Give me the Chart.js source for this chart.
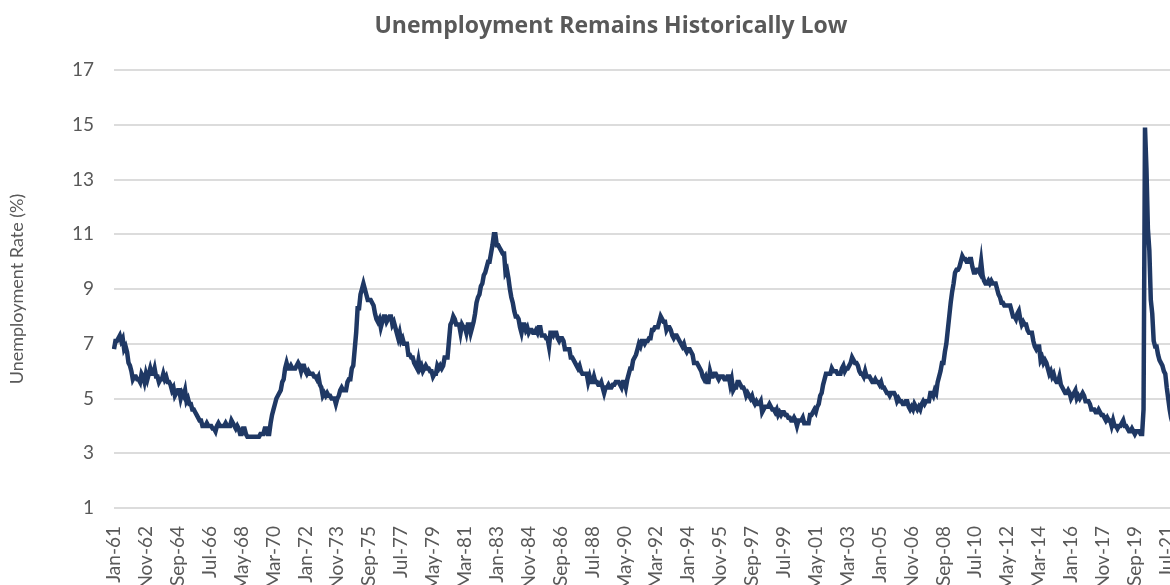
<!DOCTYPE html>
<html>
<head>
<meta charset="utf-8">
<script src="https://cdn.jsdelivr.net/npm/chart.js@4/dist/chart.umd.min.js"></script>
<style>
    html, body { margin: 0; padding: 0; background: #fff; overflow: hidden; width: 1170px; height: 585px; }
    #chart { position: absolute; left: 0; top: 0; }
</style>
</head>
<body>
<canvas id="chart" width="1222" height="600"></canvas>
<script>
// Monthly unemployment rate (%), Jan-1961 .. Dec-2021, one row per year
const unemploymentRate = [
    6.8, 7.1, 7.1, 7.2, 7.3, 7.1, 7.2, 6.8, 6.9, 6.7, 6.3, 6.2,
    6.0, 5.7, 5.8, 5.8, 5.7, 5.7, 5.6, 5.9, 5.8, 5.6, 5.9, 5.7,
    5.9, 6.1, 5.9, 5.9, 6.1, 5.8, 5.8, 5.6, 5.7, 5.7, 5.9, 5.7,
    5.8, 5.6, 5.6, 5.5, 5.3, 5.4, 5.1, 5.2, 5.3, 5.3, 5.0, 5.2,
    5.1, 5.3, 4.9, 5.0, 4.8, 4.8, 4.6, 4.6, 4.5, 4.4, 4.3, 4.2,
    4.2, 4.0, 4.0, 4.0, 4.1, 4.0, 4.0, 4.0, 3.9, 3.9, 3.8, 4.0,
    4.1, 4.0, 4.0, 4.0, 4.0, 4.1, 4.0, 4.0, 4.0, 4.2, 4.1, 4.0,
    3.9, 4.0, 3.9, 3.7, 3.7, 3.9, 3.9, 3.7, 3.6, 3.6, 3.6, 3.6,
    3.6, 3.6, 3.6, 3.6, 3.6, 3.7, 3.7, 3.7, 3.9, 3.9, 3.7, 3.7,
    4.1, 4.4, 4.6, 4.8, 5.0, 5.1, 5.2, 5.3, 5.6, 5.7, 6.1, 6.3,
    6.1, 6.1, 6.2, 6.1, 6.1, 6.1, 6.2, 6.3, 6.2, 6.0, 6.2, 6.2,
    6.0, 5.9, 6.0, 5.9, 5.9, 5.9, 5.8, 5.8, 5.7, 5.8, 5.5, 5.4,
    5.1, 5.2, 5.1, 5.2, 5.1, 5.1, 5.0, 5.0, 5.0, 4.8, 5.0, 5.1,
    5.3, 5.4, 5.3, 5.3, 5.3, 5.6, 5.7, 5.7, 6.1, 6.2, 6.8, 7.4,
    8.3, 8.3, 8.8, 9.0, 9.2, 9.0, 8.8, 8.6, 8.6, 8.6, 8.5, 8.4,
    8.1, 7.9, 7.8, 7.9, 7.6, 7.8, 8.0, 8.0, 7.8, 7.9, 8.0, 8.0,
    7.7, 7.8, 7.6, 7.4, 7.2, 7.4, 7.1, 7.2, 7.0, 7.0, 7.0, 6.6,
    6.6, 6.5, 6.5, 6.3, 6.2, 6.1, 6.4, 6.1, 6.2, 6.0, 6.1, 6.2,
    6.1, 6.1, 6.0, 6.0, 5.8, 5.9, 5.9, 6.2, 6.1, 6.2, 6.1, 6.2,
    6.5, 6.5, 6.5, 7.1, 7.7, 7.8, 8.0, 7.9, 7.7, 7.7, 7.7, 7.4,
    7.7, 7.6, 7.6, 7.4, 7.7, 7.7, 7.4, 7.6, 7.8, 8.1, 8.5, 8.7,
    8.8, 9.1, 9.2, 9.5, 9.6, 9.8, 10.0, 10.0, 10.3, 10.6, 11.0, 11.0,
    10.6, 10.6, 10.5, 10.4, 10.3, 10.3, 9.6, 9.7, 9.4, 9.0, 8.7, 8.5,
    8.2, 8.0, 8.0, 7.9, 7.6, 7.4, 7.7, 7.7, 7.5, 7.6, 7.4, 7.5,
    7.5, 7.4, 7.4, 7.5, 7.4, 7.6, 7.6, 7.3, 7.3, 7.3, 7.2, 7.2,
    6.9, 7.4, 7.4, 7.3, 7.4, 7.4, 7.2, 7.1, 7.2, 7.2, 7.1, 6.8,
    6.8, 6.8, 6.8, 6.5, 6.5, 6.4, 6.3, 6.2, 6.1, 6.2, 6.0, 5.9,
    5.9, 5.9, 5.9, 5.6, 5.8, 5.6, 5.6, 5.8, 5.6, 5.6, 5.5, 5.5,
    5.6, 5.4, 5.2, 5.4, 5.4, 5.5, 5.4, 5.4, 5.5, 5.5, 5.6, 5.6,
    5.6, 5.5, 5.4, 5.6, 5.6, 5.4, 5.7, 5.9, 6.1, 6.1, 6.4, 6.5,
    6.6, 6.8, 7.0, 6.9, 7.1, 7.1, 7.0, 7.1, 7.1, 7.2, 7.2, 7.5,
    7.5, 7.6, 7.6, 7.6, 7.8, 8.0, 7.9, 7.8, 7.8, 7.5, 7.6, 7.6,
    7.5, 7.3, 7.2, 7.3, 7.3, 7.2, 7.1, 7.0, 6.9, 7.0, 6.8, 6.7,
    6.8, 6.8, 6.7, 6.6, 6.3, 6.3, 6.3, 6.2, 6.1, 6.0, 5.8, 5.7,
    5.8, 5.6, 5.6, 6.0, 5.8, 5.8, 5.9, 5.9, 5.8, 5.7, 5.8, 5.8,
    5.8, 5.7, 5.7, 5.8, 5.8, 5.5, 5.7, 5.3, 5.4, 5.4, 5.6, 5.6,
    5.5, 5.4, 5.4, 5.3, 5.1, 5.2, 5.1, 5.0, 5.1, 4.9, 4.8, 4.9,
    4.8, 4.8, 4.9, 4.5, 4.6, 4.7, 4.7, 4.7, 4.8, 4.7, 4.6, 4.6,
    4.5, 4.6, 4.4, 4.5, 4.4, 4.5, 4.5, 4.4, 4.4, 4.3, 4.3, 4.2,
    4.2, 4.3, 4.2, 4.0, 4.2, 4.2, 4.2, 4.3, 4.1, 4.1, 4.1, 4.1,
    4.4, 4.4, 4.5, 4.6, 4.5, 4.7, 4.8, 5.1, 5.2, 5.5, 5.7, 5.9,
    5.9, 5.9, 5.9, 6.1, 6.0, 6.0, 6.0, 5.9, 5.9, 5.9, 6.1, 6.2,
    6.0, 6.1, 6.1, 6.2, 6.3, 6.5, 6.4, 6.3, 6.3, 6.2, 6.0, 5.9,
    5.9, 5.8, 6.0, 5.8, 5.8, 5.8, 5.7, 5.6, 5.6, 5.7, 5.6, 5.6,
    5.5, 5.6, 5.4, 5.4, 5.3, 5.2, 5.2, 5.1, 5.2, 5.2, 5.2, 5.1,
    4.9, 5.0, 4.9, 4.9, 4.8, 4.8, 4.9, 4.9, 4.7, 4.6, 4.7, 4.6,
    4.8, 4.7, 4.6, 4.7, 4.6, 4.8, 4.9, 4.8, 4.9, 4.9, 4.9, 5.2,
    5.2, 5.1, 5.3, 5.2, 5.6, 5.8, 6.0, 6.3, 6.3, 6.7, 7.0, 7.5,
    8.0, 8.5, 8.9, 9.2, 9.6, 9.7, 9.7, 9.8, 10.0, 10.2, 10.1, 10.1,
    10.0, 10.0, 10.1, 10.1, 9.8, 9.6, 9.6, 9.7, 9.7, 9.6, 10.0, 9.5,
    9.3, 9.2, 9.2, 9.3, 9.2, 9.3, 9.2, 9.2, 9.2, 9.0, 8.8, 8.7,
    8.5, 8.5, 8.4, 8.4, 8.4, 8.4, 8.4, 8.2, 8.0, 8.0, 7.9, 8.1,
    8.2, 7.9, 7.7, 7.8, 7.7, 7.7, 7.5, 7.4, 7.4, 7.4, 7.1, 6.9,
    6.8, 6.9, 6.9, 6.4, 6.5, 6.3, 6.4, 6.3, 6.1, 5.9, 6.0, 5.8,
    5.9, 5.7, 5.6, 5.6, 5.8, 5.5, 5.4, 5.3, 5.2, 5.2, 5.3, 5.2,
    5.0, 5.1, 5.2, 5.3, 5.0, 5.1, 5.0, 5.1, 5.2, 5.1, 4.9, 4.9,
    4.9, 4.8, 4.6, 4.6, 4.6, 4.5, 4.5, 4.6, 4.5, 4.4, 4.4, 4.3,
    4.2, 4.3, 4.2, 4.2, 4.0, 4.2, 4.0, 4.0, 3.9, 4.0, 4.0, 4.1,
    4.2, 4.0, 4.0, 3.9, 3.8, 3.8, 3.9, 3.8, 3.7, 3.8, 3.8, 3.8,
    3.7, 3.7, 4.6, 14.9, 13.4, 11.2, 10.4, 8.6, 8.1, 7.1, 6.9, 6.9,
    6.6, 6.4, 6.3, 6.2, 6.0, 5.9, 5.4, 5.0, 4.6, 4.3, 4.1, 3.9
];

const monthNames = ['Jan', 'Feb', 'Mar', 'Apr', 'May', 'Jun', 'Jul', 'Aug', 'Sep', 'Oct', 'Nov', 'Dec'];
const firstYear = 1961;
const labelEvery = 22; // one axis label every 22 months
const yTicks = [1, 3, 5, 7, 9, 11, 13, 15, 17];

// category labels like "Jan-61"
const months = unemploymentRate.map((v, i) => {
    const year = firstYear + Math.floor(i / 12);
    return monthNames[i % 12] + '-' + String(year % 100).padStart(2, '0');
});

const grey = '#595959';
const font = 'Lato, "Open Sans", sans-serif';

new Chart(document.getElementById('chart'), {
    type: 'line',
    data: {
        labels: months,
        datasets: [{
            data: unemploymentRate,
            borderColor: '#1f3864',
            borderWidth: 4.5,
            pointRadius: 0,
            tension: 0,
            fill: false
        }]
    },
    options: {
        responsive: false,
        animation: false,
        events: [],
        layout: { padding: { left: 4, right: 4, top: 0, bottom: 0 } },
        plugins: {
            legend: { display: false },
            tooltip: { enabled: false },
            title: {
                display: true,
                text: 'Unemployment Remains Historically Low',
                color: grey,
                font: { family: '"Open Sans", Lato, sans-serif', size: 23, weight: 'bold' },
                padding: { top: 13, bottom: 29.4 }
            }
        },
        scales: {
            x: {
                type: 'category',
                offset: false,
                grid: { display: false },
                border: { display: false },
                ticks: {
                    autoSkip: false,
                    minRotation: 90,
                    maxRotation: 90,
                    padding: 10,
                    color: grey,
                    font: { family: font, size: 19 },
                    callback: function (value, index) {
                        return index % labelEvery === 0 ? this.getLabelForValue(value) : '';
                    }
                },
                afterFit: (scale) => { scale.height = 92; }
            },
            y: {
                min: yTicks[0],
                max: yTicks[yTicks.length - 1],
                afterBuildTicks: (scale) => { scale.ticks = yTicks.map(v => ({ value: v })); },
                grid: { color: '#dcdcdc', lineWidth: 2, drawTicks: false },
                border: { display: false },
                ticks: {
                    padding: 20,
                    color: grey,
                    font: { family: font, size: 19 }
                },
                title: {
                    display: true,
                    text: 'Unemployment Rate (%)',
                    color: grey,
                    font: { family: font, size: 18 },
                    padding: { top: 2, bottom: 0 }
                },
                afterFit: (scale) => { scale.width = 110; }
            },
            // empty right-hand axis: keeps the plot short of the title's full width
            spacer: {
                type: 'linear',
                position: 'right',
                grid: { display: false },
                border: { display: false },
                ticks: { display: false },
                afterFit: (scale) => { scale.width = 44; }
            }
        }
    }
});
</script>
</body>
</html>
